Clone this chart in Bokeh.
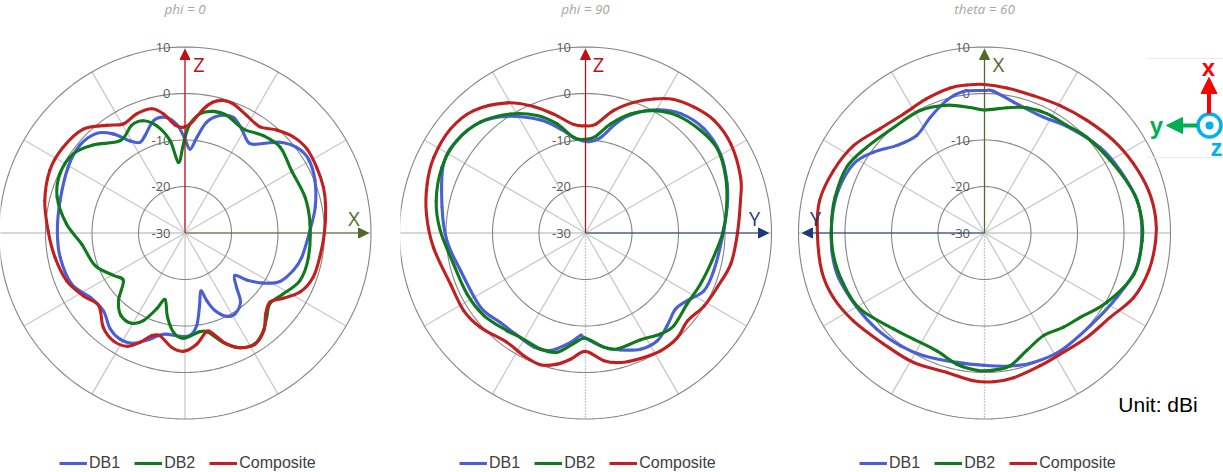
import math
from bokeh.plotting import figure
from bokeh.layouts import row
from bokeh.models import Arrow, NormalHead, Legend, LegendItem, Range1d
from bokeh.core.properties import value
from bokeh.embed import file_html
from bokeh.resources import INLINE

# ---- data: angle clockwise from top (deg), gain (dBi) ----
P0_DB1_A = [3.4,7,11,16.6,22.7,28.6,35.7,41.1,46.3,52.5,59,68,78.8,89,101.8,109,117,122.7,127.3,130.5,136.4,141.2,148.3,153.4,158.9,162.2,164.7,169,172.8,177.2,182.8,192,198.3,205,211.5,218,226.4,235.9,245.8,259,271,284.5,299.4,309.8,318.4,324,329.2,333.6,337.7,344.3,350.2,355.6,359.6]
P0_DB1_V = [-11.8,-9.2,-5.6,-3.5,-2.9,-4.4,-6.1,-4.3,-1.6,0.4,1.1,0.3,-1.3,-3.0,-4.2,-5.2,-6.9,-9.9,-13.2,-15.8,-13.8,-10.8,-9.4,-9.8,-12.0,-14.6,-16.9,-13.6,-9.8,-7.8,-7.6,-7.6,-5.8,-3.7,-3.1,-3.7,-5.6,-5.2,-3.1,-2.5,-2.4,-2.1,-1.0,-0.4,-1.2,-3.5,-6.8,-8.1,-7.2,-4.8,-4.6,-6.4,-9.3]
P0_DB2_A = [0,2.6,7.2,13.1,19.5,29.3,38.8,48,59.7,73.4,85.9,101,112.5,121.8,129.6,135.9,141.3,147.6,154.4,160.7,166.8,171.4,180.9,186.7,191.8,196.7,200.4,205.4,210.6,217.9,224.6,232.3,239.2,250,263.9,274.3,285.6,295.3,305.3,313.8,324.9,333.6,339.6,345.2,350.8,354.6,358.4]
P0_DB2_V = [-9.3,-6.4,-4.0,-3.0,-3.0,-4.2,-3.0,-2.3,-3.3,-2.9,-2.9,-2.8,-3.1,-5.0,-6.1,-4.6,-2.9,-1.7,-2.5,-4.9,-7.9,-8.4,-7.2,-8.4,-11.4,-14.9,-12.5,-9.0,-7.3,-7.4,-9.5,-13.1,-12.0,-9.3,-7.5,-4.3,-1.3,-0.1,-0.4,-2.5,-5.6,-4.0,-4.1,-6.0,-9.7,-14.6,-11.5]
P0_CMP_A = [3.5,8.4,12,16,20.5,27.7,35,41.7,48.5,55.4,63.5,71.7,79.7,90.4,100,109,117,123.6,129,135,141,147.8,154.4,159.4,164.3,167.6,174,180.8,186.7,193.7,198,202.4,207,213.6,220.9,230,238,248,259.4,271,283,295,305,315.6,323.9,330.5,337.9,345,349.7,354.7,359]
P0_CMP_V = [-6.0,-2.9,-1.1,-0.2,-0.2,-1.3,-1.9,-0.2,1.3,2.0,1.8,1.5,0.9,0.1,-0.4,-0.7,-2.0,-4.5,-6.3,-5.3,-2.9,-1.6,-2.5,-4.3,-7.3,-8.2,-5.8,-4.4,-5.1,-7.1,-6.6,-4.4,-2.5,-2.0,-3.0,-5.6,-4.2,-2.4,-1.4,-0.4,1.1,2.2,2.2,1.4,-1.2,-2.9,-2.2,-2.2,-3.8,-6.5,-7.1]

P90_DB1_A = [2,8.9,16,22,30.2,38.6,48.7,59.7,70.9,79.7,91.8,106.4,116,123.6,130.2,138.6,146.3,154.6,163.3,170.9,180.9,182.8,187.8,196.6,204.3,214.7,223.6,234.7,253.2,266.8,280.2,295.9,305.7,316.5,326,338.3,346.5,355]
P90_DB1_V = [-10.2,-9.1,-5.1,-2.2,0.8,3.0,4.1,3.8,2.4,1.1,-0.4,-1.1,-1.5,-3.6,-4.5,-3.3,-2.0,-2.2,-3.6,-5.0,-7.4,-7.8,-6.1,-3.5,-2.9,-3.4,-3.3,-2.2,-1.8,0.0,1.5,4.1,4.2,3.0,0.4,-3.7,-6.9,-9.6]
P90_DB2_A = [0,5.9,12.9,20.7,29.2,38,48.3,57.5,68.3,79.7,90.4,102.3,113.9,124.9,136.4,143.4,152.7,164.7,170.9,180,186,193.4,201.2,212,218.7,230.9,242.7,256.7,271,282.2,294.6,305.7,316.5,327.8,337.6,345.4,353]
P90_DB2_V = [-9.7,-9.0,-5.8,-2.5,0.3,2.2,3.3,3.8,2.6,1.0,-0.4,-2.0,-2.8,-3.2,-2.3,-2.8,-4.0,-4.0,-5.0,-7.2,-6.0,-3.5,-3.1,-3.4,-2.9,-1.7,-1.2,-0.7,1.4,3.0,4.1,4.2,3.0,0.4,-2.5,-5.6,-9.2]
P90_CMP_A = [0,5.2,13,20.3,27,33.5,40.8,48.8,58.5,70.2,78.2,90.4,102,112.4,121.6,130.8,138.7,147.5,156.3,164.9,171.8,180,186.8,192.2,198.9,206.7,215.6,228,237.4,249.3,264.6,276.8,287.2,296.5,307.6,317.6,329,337.8,345,353.9]
P90_CMP_V = [-6.8,-6.4,-2.8,0.1,2.5,4.6,5.9,6.9,6.8,5.6,4.2,2.8,2.1,0.8,0.1,-0.9,0.1,0.2,-0.4,-1.0,-2.1,-4.4,-2.5,-1.0,0.1,-0.3,-0.9,0.5,1.2,1.2,3.0,4.6,5.8,6.6,6.8,5.8,2.8,-0.5,-3.4,-6.4]

T60_DB1_A = [0,3.6,12.5,27,37.7,53.5,65.3,78,89.2,102.7,115.9,131.2,147.3,159.3,169,180.4,192,206.4,216.8,228.3,239.8,253.1,263.4,274.6,286.2,297.8,306,315,325.2,334.8,344.1,351.5]
T60_DB1_V = [0.8,0.7,-1.0,-1.9,-0.9,1.1,2.3,3.7,4.0,3.7,1.8,0.4,0.3,-0.1,-0.7,-1.4,-1.4,-0.4,0.4,1.2,1.9,3.0,3.2,3.1,2.9,2.0,-0.3,-3.2,-4.3,-2.4,-0.2,0.9]
T60_DB2_A = [0,10.1,18.7,27.6,37.5,46.9,61.9,75.9,85.5,92.8,105.4,119.5,131.4,140,150,160.2,169,176.2,183.2,191.9,202,213.8,223.5,238.6,250.1,262,273.4,283.4,295.5,306,319.3,332.3,343.6,353.5]
T60_DB2_V = [-3.4,-2.5,-1.4,-0.9,-0.7,0.3,1.6,3.5,4.1,4.1,3.5,0.4,-2.4,-3.4,-4.4,-3.0,-0.8,-0.3,-0.3,-1.0,-2.5,-2.4,-1.4,1.5,2.4,3.0,3.1,3.2,3.0,1.5,0.1,-0.1,-1.2,-2.7]
T60_CMP_A = [0,8.8,19.6,30.7,42.3,54.4,65.1,75.5,84.8,92.6,102.9,113.4,123.9,135.6,146.5,157.2,168.6,176.5,184.3,195.1,208.8,222.3,236.2,246.9,257,270.3,281.1,292.4,303.7,315,325.8,336.7,346.7,353.2]
T60_CMP_V = [2.1,1.7,1.5,2.0,2.9,4.3,5.5,6.6,7.1,7.0,6.4,5.1,2.7,1.6,0.9,1.1,1.9,2.2,2.0,1.2,1.9,2.4,4.1,5.5,6.1,6.1,6.3,5.3,4.0,1.9,1.1,1.6,2.2,2.2]

SERIES = ["DB1", "DB2", "Composite"]
TICKS = [10, 0, -10, -20, -30]
TITLES = ["phi = 0", "phi = 90", "theta = 60"]

COL = {"DB1": "#4a5fd6", "DB2": "#0f7a1c", "Composite": "#c0201f"}
RED, OLIVE, NAVY = "#c00f16", "#55682c", "#1c3a78"
PX = 4.65          # pixels per dB
ORIGIN = 29.85     # dB -> radial distance
H = 472
FONT = "Open Sans"
LW = 3.1


def polar(ang, db):
    rr = [d + ORIGIN for d in db]
    return ([r * math.sin(math.radians(a)) for a, r in zip(ang, rr)],
            [r * math.cos(math.radians(a)) for a, r in zip(ang, rr)])


def smooth(p, ang, db, color):
    """Closed smooth curve through the read points, as the source's 'smoothed line' does."""
    x, y = polar(ang, db)
    n = len(x)
    x0, y0, x1, y1, c0x, c0y, c1x, c1y = [], [], [], [], [], [], [], []
    for i in range(n):
        a, b, c, d = (i - 1) % n, i, (i + 1) % n, (i + 2) % n
        x0.append(x[b]); y0.append(y[b]); x1.append(x[c]); y1.append(y[c])
        c0x.append(x[b] + (x[c] - x[a]) / 6); c0y.append(y[b] + (y[c] - y[a]) / 6)
        c1x.append(x[c] - (x[d] - x[b]) / 6); c1y.append(y[c] - (y[d] - y[b]) / 6)
    p.bezier(x0=x0, y0=y0, x1=x1, y1=y1, cx0=c0x, cy0=c0y, cx1=c1x, cy1=c1y,
             line_color=color, line_width=LW, line_cap="round")
    return x[0], y[0]


def chart(w, cx, title, data, leg_x, dotted=False):
    cy = 232.5
    p = figure(width=w, height=H, output_backend="svg", toolbar_location=None,
               x_range=Range1d(-cx / PX, (w - cx) / PX),
               y_range=Range1d(-(H - cy) / PX, cy / PX),
               min_border=0, min_border_left=0, min_border_right=0, min_border_top=0, min_border_bottom=0,
               outline_line_color=None, background_fill_color=None, border_fill_color=None)
    p.axis.visible = False
    p.grid.visible = False
    th = [i * 2 * math.pi / 180 for i in range(0, 181)]
    for a in range(0, 360, 30):
        if a == 180 and dotted:
            continue
        p.line([0, 40 * math.sin(math.radians(a))], [0, 40 * math.cos(math.radians(a))],
               line_color="#c9c9c9", line_width=1.3)
    if dotted:
        p.line([0, 0], [0, -40], line_color="#b9cfd0", line_width=1.4, line_dash="2 1")
    for t in TICKS[:-1]:
        r = t + 30
        p.line([r * math.sin(x) for x in th], [r * math.cos(x) for x in th],
               line_color="#858585", line_width=1.1)
    p.text([-14.5 / PX] * len(TICKS), [t + 30 for t in TICKS], text=[str(t) for t in TICKS],
           text_align="right", text_baseline="middle", text_color="#595959",
           text_font=value(FONT), text_font_size="13px")
    p.text([0], [(cy - 8) / PX], text=[title], text_align="center", text_baseline="middle",
           text_color="#a6a6a6", text_font=value(FONT), text_font_style="italic", text_font_size="13.5px")
    items = []
    for s, (a, v) in zip(SERIES, data):
        sx, sy = smooth(p, a, v, COL[s])
        # single-point line: draws nothing itself, gives the legend its sample
        g = p.line([sx], [sy], line_color=COL[s], line_width=LW)
        items.append(LegendItem(label=s, renderers=[g]))
    leg = Legend(items=items, orientation="horizontal", location=(leg_x, 0), glyph_width=28, glyph_height=12,
                 label_standoff=2, spacing=14, margin=0, padding=0, border_line_color=None,
                 background_fill_alpha=0, label_text_font="Liberation Sans", label_text_font_size="16px",
                 label_text_color="#404040", label_height=14)
    p.add_layout(leg, "center")
    return p


def arrow(p, x0, y0, x1, y1, col, width=1.2, size=10):
    p.add_layout(Arrow(end=NormalHead(size=size, fill_color=col, line_color=col), line_color=col,
                       line_width=width, x_start=x0 / PX, y_start=y0 / PX, x_end=x1 / PX, y_end=y1 / PX))


def lab(p, x, y, s, col, size, style="normal", font=FONT):
    p.text([x / PX], [y / PX], text=[s], text_align="center", text_baseline="middle", text_color=col,
           text_font=value(font), text_font_size=size, text_font_style=style)


p1 = chart(400, 184.5, TITLES[0], [(P0_DB1_A, P0_DB1_V), (P0_DB2_A, P0_DB2_V), (P0_CMP_A, P0_CMP_V)], 59)
arrow(p1, 0, 0, 0, 183.5, RED)
arrow(p1, 0, 0, 183.5, 0, OLIVE)
lab(p1, 14, 169, "Z", RED, "20px")
lab(p1, 169, 15, "X", OLIVE, "20px")

p2 = chart(385, 185, TITLES[1], [(P90_DB1_A, P90_DB1_V), (P90_DB2_A, P90_DB2_V), (P90_CMP_A, P90_CMP_V)], 59, True)
arrow(p2, 0, 0, 0, 183.5, RED)
arrow(p2, 0, 0, 183, 0, NAVY)
lab(p2, 13, 169, "Z", RED, "20px")
lab(p2, 169, 15, "Y", NAVY, "20px")

p3 = chart(438, 199, TITLES[2], [(T60_DB1_A, T60_DB1_V), (T60_DB2_A, T60_DB2_V), (T60_CMP_A, T60_CMP_V)], 74, True)
arrow(p3, 0, 0, 0, 183.5, OLIVE)
arrow(p3, 0, 0, -182, 0, NAVY)
lab(p3, 14, 169, "X", OLIVE, "20px")
lab(p3, -169, 15, "Y", NAVY, "20px")
lab(p3, 173.5, -171, "Unit: dBi", "#000000", "21px", font="Liberation Sans")

# orientation inset
ic_x, ic_y = 1209 - 984, 232.5 - 125
for yy in (232.5 - 58, 232.5 - 157):
    p3.line([(1146 - 984) / PX, (1223 - 984) / PX], [yy / PX, yy / PX], line_color="#ececec", line_width=1)
arrow(p3, ic_x - 0.5, ic_y + 12, ic_x - 0.5, ic_y + 48, "#ff0000", 4, 16)
arrow(p3, ic_x - 12, ic_y, ic_x - 43, ic_y, "#00b050", 4, 16)
p3.scatter([ic_x / PX], [ic_y / PX], size=23, marker="circle", fill_color=None, line_color="#00b0f0", line_width=3.5)
p3.scatter([ic_x / PX], [ic_y / PX], size=8, marker="circle", fill_color="#00b0f0", line_color=None)
lab(p3, 1208 - 984, 232.5 - 67, "x", "#ff0000", "24px", "bold", "Liberation Sans")
lab(p3, 1156 - 984, 232.5 - 125, "y", "#00b050", "24px", "bold", "Liberation Sans")
lab(p3, 1216 - 984, 232.5 - 147, "z", "#00b0f0", "24px", "bold", "Liberation Sans")

layout = row(p1, p2, p3, spacing=0)
layout.styles = {"position": "absolute", "left": "0px", "top": "0px", "margin": "0"}
open("out.html", "w").write(file_html(layout, INLINE))
